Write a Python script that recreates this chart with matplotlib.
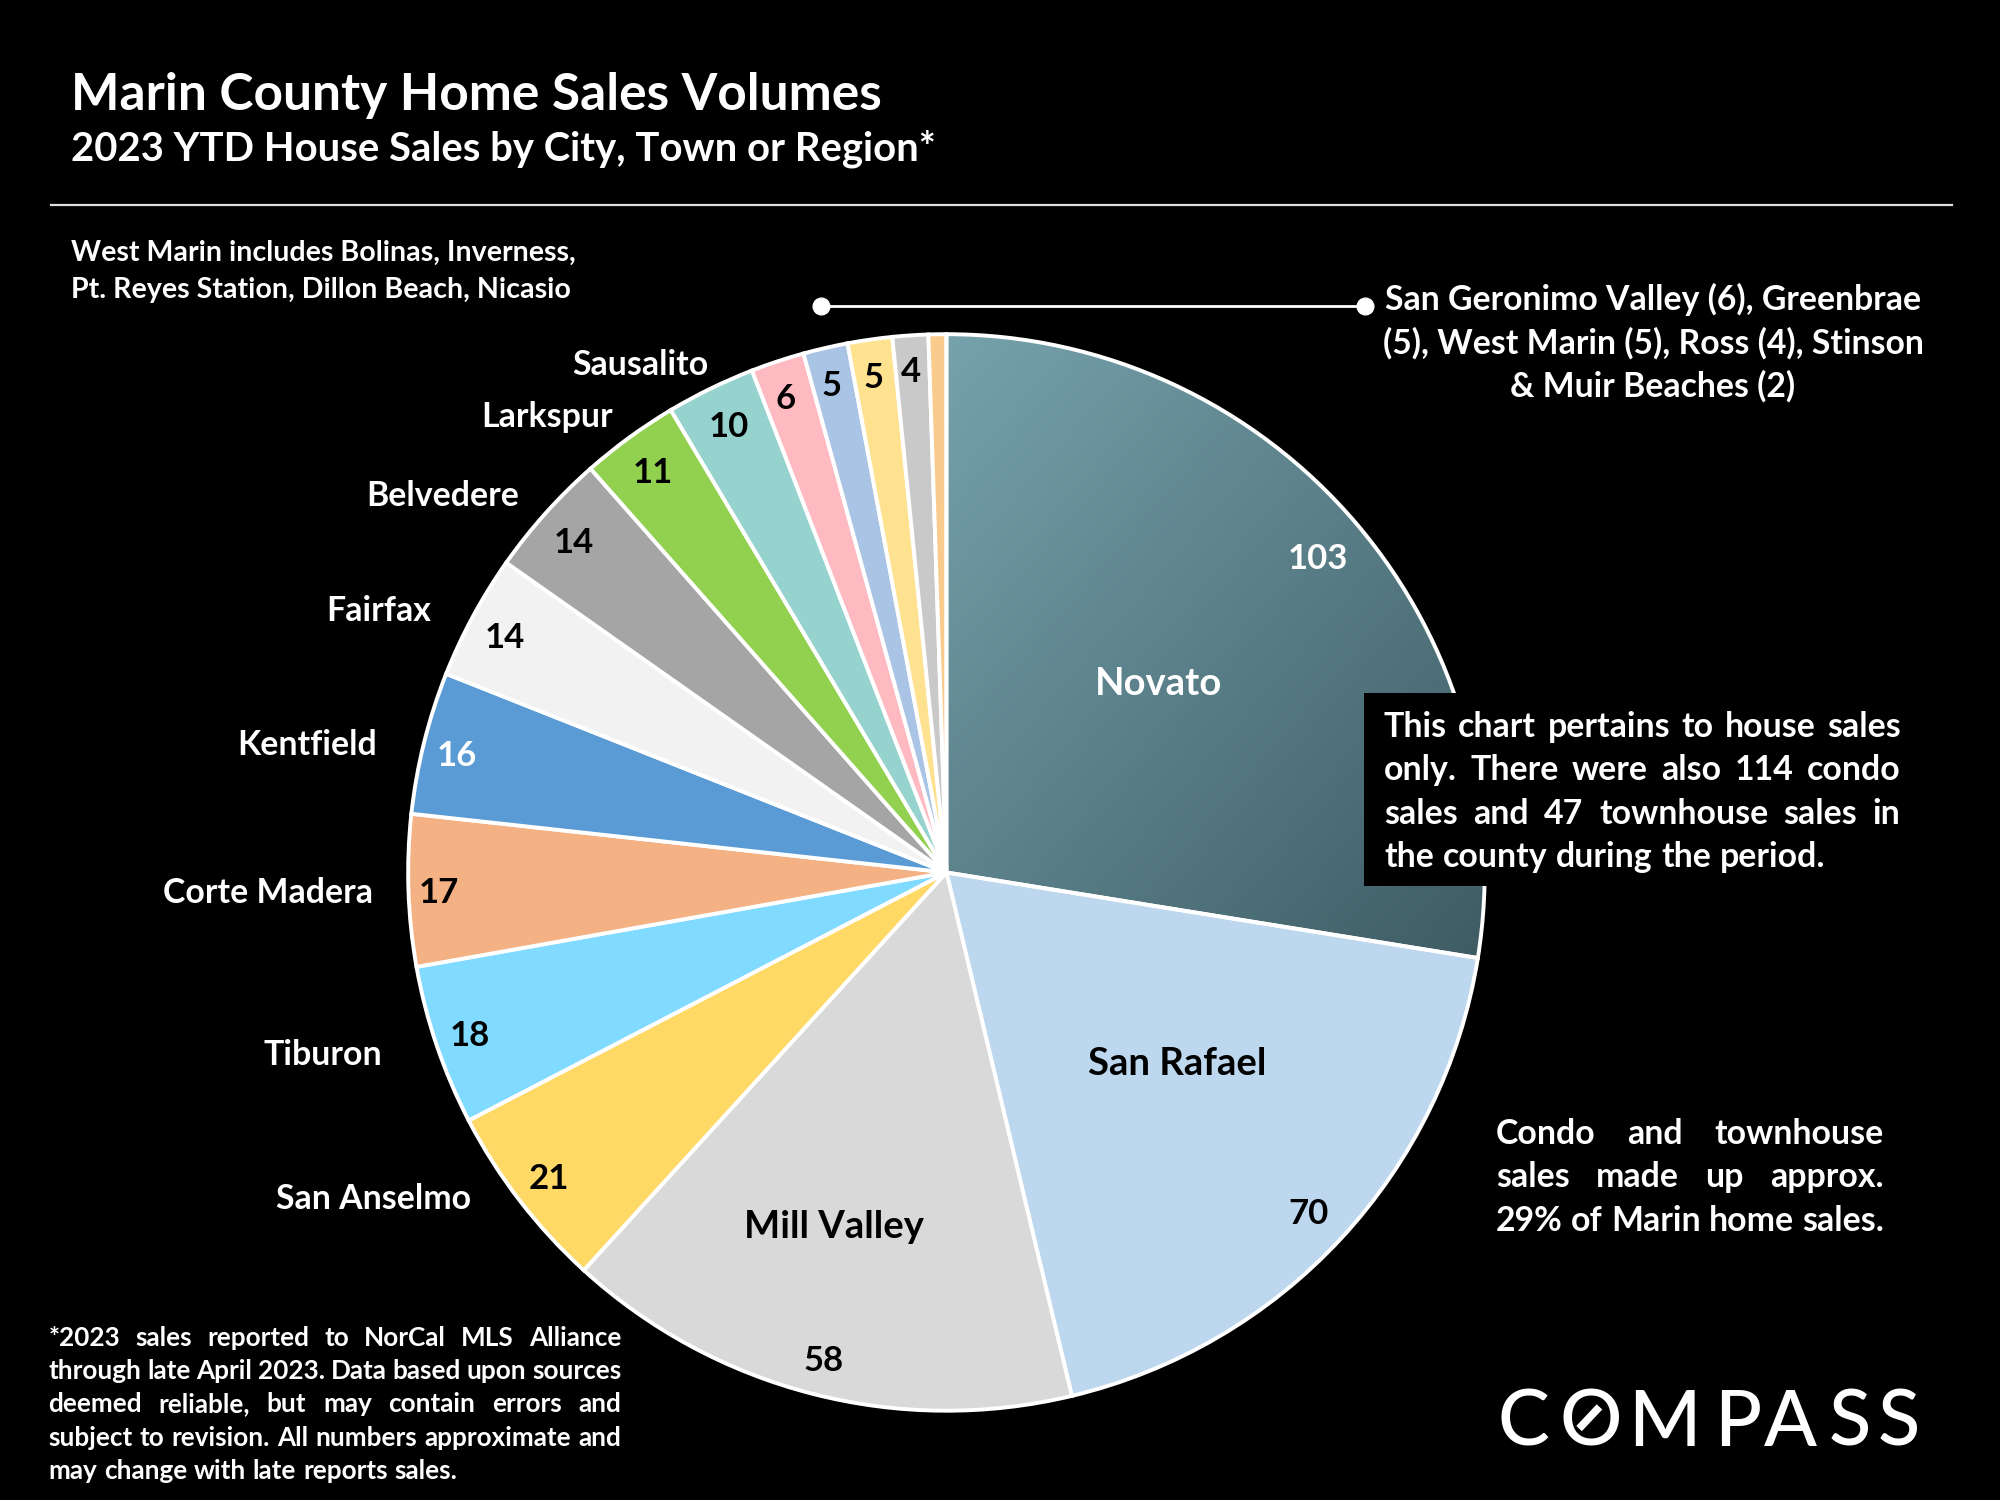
import numpy as np
import matplotlib
matplotlib.use('Agg')
import matplotlib.pyplot as plt
from matplotlib.colors import LinearSegmentedColormap

plt.rcParams['font.family'] = ['Lato', 'DejaVu Sans']

# sales by city, clockwise from 12 o'clock
cities = ['Novato', 'San Rafael', 'Mill Valley', 'San Anselmo', 'Tiburon', 'Corte Madera',
          'Kentfield', 'Fairfax', 'Belvedere', 'Larkspur', 'Sausalito', 'San Geronimo Valley',
          'Greenbrae', 'West Marin', 'Ross', 'Stinson & Muir Beaches']
sales = [103, 70, 58, 21, 18, 17, 16, 14, 14, 11, 10, 6, 5, 5, 4, 2]
colors = ['#6b939c', '#bdd7ee', '#d9d9d9', '#ffd966', '#81daff', '#f4b183', '#5b9bd5', '#f2f2f2',
          '#a5a5a5', '#92d050', '#96d3cf', '#ffb9c1', '#a9c4e4', '#ffe28f', '#c9c9c9', '#f9cc8e']

# where the number sits, no number for the smallest slice
value_pos = [(1033, 436), (1026, 950), (646, 1065), (430, 922), (368, 810), (344, 698), (358, 591),
             (396, 498), (450, 424), (512, 369), (571, 333), (616, 311), (652, 301), (685, 294), (714, 290)]
value_colors = ['white', 'black', 'black', 'black', 'black', 'black', 'white', 'black', 'black',
                'black', 'black', 'black', 'black', 'black', 'black']

# name labels outside / inside the pie
name_labels = ['Novato', 'San Rafael', 'Mill Valley', 'San Anselmo', 'Tiburon', 'Corte Madera',
               'Kentfield', 'Fairfax', 'Belvedere', 'Larkspur', 'Sausalito']
name_pos = [(908, 534), (923, 832), (654, 960), (293, 938), (253, 825), (210, 698),
            (241, 582), (297, 477), (347, 387), (429, 325), (502, 284)]
name_colors = ['white', 'black', 'black', 'white', 'white', 'white', 'white', 'white', 'white', 'white', 'white']

W, H = 1568, 1176


def Y(y):
    return H - y


def YT(y):
    # text sits a little high with va=center
    return H - y - 2


def justified(ax, lines, x0, x1, y0, dy, size):
    # no text justify in matplotlib, so place word by word
    rend = ax.figure.canvas.get_renderer()
    inv = ax.transData.inverted()
    for n, line in enumerate(lines):
        y = YT(y0 + n * dy)
        just = not line.endswith('$')
        words = line.rstrip('$').split(' ')
        items = [ax.text(0, y, w, color='white', fontsize=size, fontweight='bold', va='center', ha='left', zorder=6)
                 for w in words]
        widths = []
        for t in items:
            bb = t.get_window_extent(rend)
            widths.append(inv.transform((bb.x1, 0))[0] - inv.transform((bb.x0, 0))[0])
        if just and len(words) > 1:
            gap = (x1 - x0 - sum(widths)) / (len(words) - 1)
        else:
            gap = size * 0.28
        x = x0
        for t, w in zip(items, widths):
            t.set_x(x)
            x += w + gap


fig = plt.figure(figsize=(20, 15), dpi=100, facecolor='black')
ax = fig.add_axes([0, 0, 1, 1])
ax.set_facecolor('black')

wedges, _ = ax.pie(sales, colors=colors, startangle=90, counterclock=False, center=(742, Y(684)), radius=422,
                   wedgeprops={'edgecolor': 'white', 'linewidth': 2.8}, frame=True)

# Novato has a diagonal gradient
cmap = LinearSegmentedColormap.from_list('novato', ['#76a2ac', '#3e5c64'])
gx, gy = np.meshgrid(np.linspace(0, 1, 200), np.linspace(0, 1, 200))
im = ax.imshow(gx + gy, cmap=cmap, extent=(742, 1164, Y(750), Y(262)), origin='upper', zorder=0.5, aspect='auto')
im.set_clip_path(wedges[0])
wedges[0].set_facecolor('none')
wedges[0].set_zorder(1.5)

ax.set_xlim(0, W)
ax.set_ylim(0, H)
ax.set_aspect('equal')
ax.axis('off')
fig.canvas.draw()

for val, pos, col in zip(sales, value_pos, value_colors):
    ax.text(pos[0], YT(pos[1]), str(val), color=col, fontsize=25, fontweight='bold', ha='center', va='center', zorder=5)
for name, pos, col in zip(name_labels, name_pos, name_colors):
    ax.text(pos[0], YT(pos[1]), name, color=col, fontsize=27.5 if name in cities[:3] else 24.4, fontweight='bold',
            ha='center', va='center', zorder=5)

# titles
ax.text(56, YT(73), 'Marin County Home Sales Volumes', color='white', fontsize=37, fontweight='bold', va='center')
ax.text(56, YT(115), '2023 YTD House Sales by City, Town or Region*', color='white', fontsize=28.8, fontweight='bold', va='center')
ax.plot([40, 1530], [Y(161), Y(161)], color='#e0e0e0', lw=1.6)

ax.text(56, YT(196), 'West Marin includes Bolinas, Inverness,', color='white', fontsize=20.6, fontweight='bold', va='center')
ax.text(56, YT(225), 'Pt. Reyes Station, Dillon Beach, Nicasio', color='white', fontsize=20.6, fontweight='bold', va='center')

# bracket for small slices
ax.plot([644, 1070], [Y(240), Y(240)], color='white', lw=2, marker='o', ms=12, mfc='white', mec='white', zorder=5)
for txt, y in [('San Geronimo Valley (6), Greenbrae', 233), ('(5), West Marin (5), Ross (4), Stinson', 267),
               ('& Muir Beaches (2)', 301)]:
    ax.text(1296, YT(y), txt, color='white', fontsize=24.3, fontweight='bold', ha='center', va='center')

# note box covers the pie edge
ax.fill_between([1069, 1500], Y(695), Y(543), color='black', lw=0, zorder=4)
justified(ax, ['This chart pertains to house sales', 'only. There were also 114 condo',
               'sales and 47 townhouse sales in', 'the county during the period.$'], 1085, 1490, 568, 34, 24.4)

justified(ax, ['Condo and townhouse', 'sales made up approx.', '29% of Marin home sales.'], 1173, 1477, 887, 34, 24.4)

justified(ax, ['*2023 sales reported to NorCal MLS Alliance', 'through late April 2023. Data based upon sources',
               'deemed reliable, but may contain errors and', 'subject to revision. All numbers approximate and',
               'may change with late reports sales.$'], 38, 487, 1047, 26, 18.8)

# logo
logo_x = [1194, 1247, 1305, 1362, 1404, 1450, 1489]
for ch, x in zip('COMPASS', logo_x):
    ax.text(x, Y(1111), ch, color='white', fontsize=56, fontweight='medium', ha='center', va='center_baseline')
ax.plot([1238, 1254], [Y(1120), Y(1103)], color='white', lw=5.5, solid_capstyle='butt')

fig.savefig('out.png', dpi=100, facecolor='black')
